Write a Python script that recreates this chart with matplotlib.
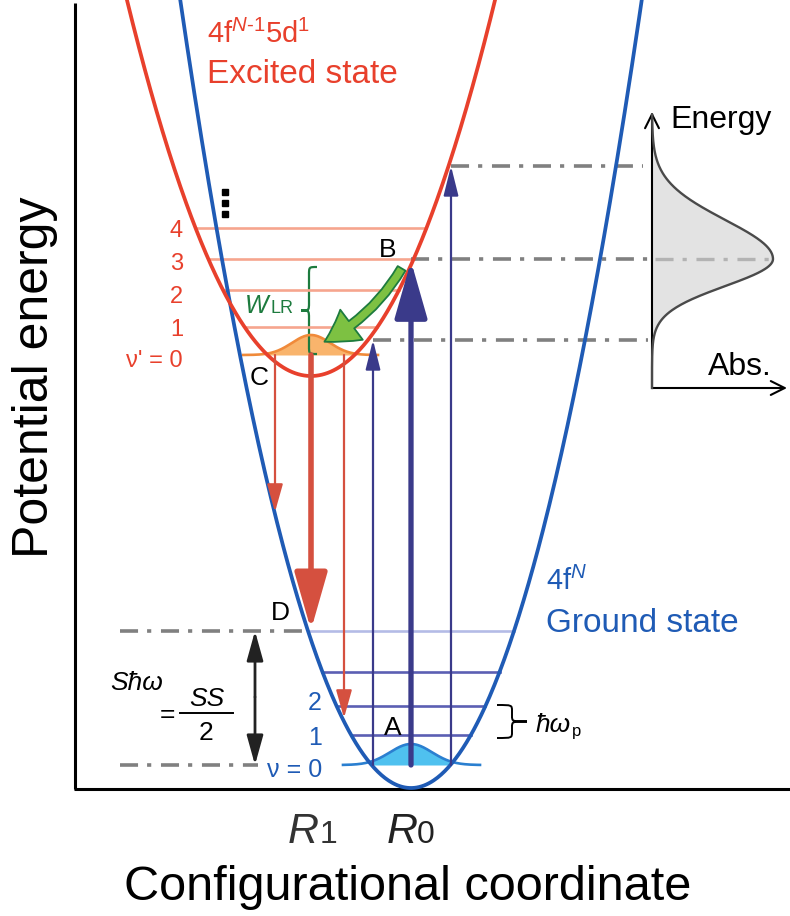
import numpy as np
import matplotlib.pyplot as plt
from matplotlib.patches import FancyArrowPatch, PathPatch
from matplotlib.path import Path

plt.rcParams['font.family'] = ['Liberation Sans', 'DejaVu Sans']
plt.rcParams['mathtext.fontset'] = 'custom'
plt.rcParams['mathtext.rm'] = 'Liberation Sans'
plt.rcParams['mathtext.it'] = 'Liberation Sans:italic'
plt.rcParams['lines.scale_dashes'] = False

# Inputs  (diagram units, y grows downwards = lower energy)
# -------------------------------------------------------------------------------------------
R0, E0, k0 = 411, 788, 0.0148          # ground state 4f^N : position, minimum, curvature
R1, E1, k1 = 311, 376, 0.0111          # excited state 4f^(N-1)5d^1

exc_levels = [355, 327, 290, 259, 228]                 # v' = 0..4
exc_labels = ["ν' = 0", '1', '2', '3', '4']
exc_label_y = [367, 336, 303, 270, 237]
gnd_levels = [765, 735, 706, 672, 631]                 # v = 0..4
gnd_labels = ['ν = 0', '1', '2']
gnd_label_y = [777, 745, 710]

abs_x = [373, 411, 451]              # absorption transitions from v = 0
abs_top = [340, 261, 166]
em_x = [275, 311, 344]               # emission transitions from v' = 0
em_bottom = [512, 630, 718]

exc_wave = dict(height=20, sigma=19, span=(243, 378))  # v' = 0 wavefunction
gnd_wave = dict(height=21, sigma=21, span=(343, 480))  # v = 0 wavefunction

band_peak, band_amp = 259, 121       # absorption band (inset)
band_sig_hi, band_sig_lo = 39, 27
inset_x0, inset_y0 = 652, 388

blue = '#1f5bb5'
red = '#e8402c'
navy = '#3a3a8a'
emred = '#d5503f'
gray = '#808080'
green = '#1d7b3e'


def ground(x):
    return E0 - k0 * (x - R0) ** 2


def excited(x):
    return E1 - k1 * (x - R1) ** 2


def arrow(ax, x0, y0, x1, y1, color, lw, hl, hw, style='-|>'):
    ax.annotate('', xy=(x1, y1), xytext=(x0, y0),
                arrowprops=dict(arrowstyle=f'{style},head_length={hl},head_width={hw}',
                                color=color, lw=lw, shrinkA=0, shrinkB=0,
                                mutation_scale=1))


def brace(ax, x_end, x_body, x_tip, y0, y1, r, color, lw):
    ym = (y0 + y1) / 2
    verts = [(x_end, y0), (x_body, y0), (x_body, y0), (x_body, y0 + r),
             (x_body, ym - r), (x_body, ym), (x_body, ym), (x_tip, ym),
             (x_body, ym), (x_body, ym), (x_body, ym + r),
             (x_body, y1 - r), (x_body, y1), (x_body, y1), (x_end, y1)]
    codes = [Path.MOVETO, Path.CURVE4, Path.CURVE4, Path.CURVE4,
             Path.LINETO, Path.CURVE4, Path.CURVE4, Path.CURVE4,
             Path.CURVE4, Path.CURVE4, Path.CURVE4,
             Path.LINETO, Path.CURVE4, Path.CURVE4, Path.CURVE4]
    ax.add_patch(PathPatch(Path(verts, codes), fc='none', ec=color, lw=lw))


dashdot = (0, (13, 6.5, 3, 7))

fig = plt.figure(figsize=(7.9, 9.16), dpi=100)
ax = fig.add_axes([0, 0, 1, 1])
ax.set_xlim(0, 790)
ax.set_ylim(916, 0)
ax.axis('off')

# frame
ax.plot([75, 75], [3, 789], color='black', lw=2.2, solid_capstyle='butt')
ax.plot([74, 790], [789, 789], color='black', lw=2.2, solid_capstyle='butt')

# vibrational levels
for i, y in enumerate(exc_levels[1:]):
    h = np.sqrt((E1 - y) / k1)
    ax.plot([R1 - h, R1 + h], [y, y], color='#f6a58e', lw=1.9)
for i, y in enumerate(gnd_levels[1:]):
    h = np.sqrt((E0 - y) / k0)
    c = '#b4bbe6' if i == len(gnd_levels) - 2 else '#5b5fb3'
    ax.plot([R0 - h, R0 + h], [y, y], color=c, lw=1.9)

# gray dash-dot guides
for x0, x1, y in [(abs_x[2], 643, abs_top[2]), (abs_x[1], inset_x0, band_peak),
                  (abs_x[0], 648, abs_top[0]), (120, 308, gnd_levels[4]),
                  (120, 258, gnd_levels[0])]:
    ax.plot([x0, x1], [y, y], color=gray, lw=2.6, ls=dashdot, dash_capstyle='butt')
ax.plot([inset_x0 + 3, 770], [band_peak, band_peak], color='#b3b3b3', lw=2.4, ls=dashdot,
        dash_capstyle='butt', zorder=4)

# wavefunctions
xs = np.linspace(*exc_wave['span'], 200)
ys = exc_levels[0] - exc_wave['height'] * np.exp(-(xs - R1) ** 2 / (2 * exc_wave['sigma'] ** 2))
h = np.sqrt((E1 - exc_levels[0]) / k1)
m = (xs > R1 - h) & (xs < R1 + h)
ax.fill_between(xs[m], ys[m], exc_levels[0], color='#f9b46c', lw=0)
ax.plot(xs, ys, color='#f08a3a', lw=1.9)

xs = np.linspace(*gnd_wave['span'], 200)
ys = gnd_levels[0] - gnd_wave['height'] * np.exp(-(xs - R0) ** 2 / (2 * gnd_wave['sigma'] ** 2))
h = np.sqrt((E0 - gnd_levels[0]) / k0)
m = (xs > R0 - h) & (xs < R0 + h)
ax.fill_between(xs[m], ys[m], gnd_levels[0], color='#4fc1ef', lw=0)
ax.plot(xs, ys, color='#2a7fd0', lw=1.9)

# absorption arrows
for x, yt in zip(abs_x, abs_top):
    if x == R0:
        arrow(ax, x, gnd_levels[0], x, yt, navy, 3.8, 35, 10)
    else:
        arrow(ax, x, gnd_levels[0], x, yt, navy, 1.6, 18, 4.5)

# emission arrows
for x, yb in zip(em_x, em_bottom):
    if x == R1:
        arrow(ax, x, exc_levels[0], x, yb, emred, 4.0, 35, 10)
    else:
        arrow(ax, x, exc_levels[0], x, yb, emred, 1.6, 17, 4.8)

# potential curves
xg = np.linspace(170, 655, 400)
ax.plot(xg, ground(xg), color=blue, lw=2.7)
xe = np.linspace(115, 510, 400)
ax.plot(xe, excited(xe), color=red, lw=2.7)

# higher levels dots
ax.plot([225, 225, 225], [192, 203, 214], ls='none', marker='s', ms=4.3, color='black')

# relaxation arrow and W_LR brace
ax.add_patch(FancyArrowPatch((403, 266), (322, 343),
                             arrowstyle='simple,head_width=27,head_length=23,tail_width=6.5',
                             connectionstyle='arc3,rad=-0.15', mutation_scale=1,
                             fc='#7dc142', ec=green, lw=1.3, zorder=6))
brace(ax, 317, 309, 301, 267, 354, 8, green, 1.6)
ax.text(245, 313, 'W', color=green, fontsize=18, style='italic', va='baseline')
ax.text(271, 313, 'LR', color=green, fontsize=13, va='baseline')

# hbar omega_p brace
brace(ax, 497, 512, 527, 705, 738, 6, 'black', 1.4)
ax.text(536, 732, 'ħω', fontsize=19, style='italic', va='baseline')
ax.text(572, 736, 'p', fontsize=12, va='baseline')

# Stokes shift
arrow(ax, 255, 697, 255, gnd_levels[4], '#222222', 2.0, 18, 5)
arrow(ax, 255, 697, 255, gnd_levels[0], '#222222', 2.0, 18, 5)
ax.text(110, 690, 'Sħω', fontsize=19, style='italic', va='baseline')
ax.text(160, 722, '=', fontsize=19, va='baseline')
ax.text(207, 706, 'SS', fontsize=19, style='italic', ha='center', va='baseline')
ax.plot([180, 233], [713, 713], color='black', lw=1.4)
ax.text(206, 740, '2', fontsize=19, ha='center', va='baseline')

# level labels
for lab, y in zip(exc_labels, exc_label_y):
    ax.text(183, y, lab, color=red, fontsize=17, ha='right', va='baseline')
for lab, y in zip(gnd_labels, gnd_label_y):
    ax.text(322, y, lab, color=blue, fontsize=18, ha='right', va='baseline')

# point letters
for lab, x, y in [('B', 388, 257), ('C', 259, 385), ('D', 280, 620), ('A', 393, 735)]:
    ax.text(x, y, lab, fontsize=19, ha='center', va='baseline')

# state names
ax.text(207, 43, r'4f$^{N\text{-}1}$5d$^{1}$', color=red, fontsize=21, va='baseline')
ax.text(207, 83, 'Excited state', color=red, fontsize=24, va='baseline')
ax.text(546, 590, r'4f$^{N}$', color=blue, fontsize=21, va='baseline')
ax.text(546, 632, 'Ground state', color=blue, fontsize=24, va='baseline')

# absorption band inset
E = np.linspace(115, inset_y0, 400)
sig = np.where(E < band_peak, band_sig_hi, band_sig_lo)
A = band_amp * np.exp(-(E - band_peak) ** 2 / (2 * sig ** 2))
ax.fill_betweenx(E, inset_x0, inset_x0 + A, color='#e3e3e3', lw=0, zorder=3)
ax.plot(inset_x0 + A, E, color='#4a4a4a', lw=1.7, zorder=5)
arrow(ax, inset_x0, inset_y0, inset_x0, 112, 'black', 1.5, 10, 5, style='->')
arrow(ax, inset_x0, inset_y0, 787, inset_y0, 'black', 1.5, 10, 5, style='->')
ax.text(670, 128, 'Energy', fontsize=23, va='baseline')
ax.text(708, 375, 'Abs.', fontsize=23, va='baseline')

# axis titles
ax.text(288, 843, 'R', fontsize=31, style='italic', color='#333333', va='baseline')
ax.text(320, 843, '1', fontsize=23, color='#333333', va='baseline')
ax.text(387, 843, 'R', fontsize=31, style='italic', color='#222222', va='baseline')
ax.text(417, 843, '0', fontsize=23, color='#222222', va='baseline')
ax.text(408, 900, 'Configurational coordinate', fontsize=35, ha='center', va='baseline')
ax.text(35, 377, 'Potential energy', fontsize=36, rotation=90, ha='center', va='center')

plt.savefig('out.png', dpi=100)
